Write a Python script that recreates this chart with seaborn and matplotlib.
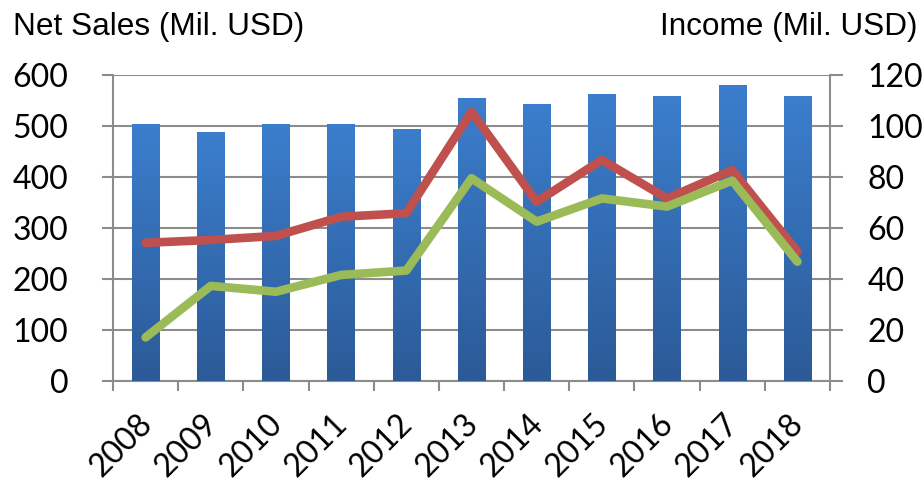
import numpy as np
import pandas as pd
import matplotlib
matplotlib.use("Agg")
import matplotlib.pyplot as plt
import matplotlib.transforms as mtransforms
import seaborn as sns
from matplotlib.colors import LinearSegmentedColormap

years = ["2008", "2009", "2010", "2011", "2012", "2013", "2014", "2015", "2016", "2017", "2018"]
net_sales = [504, 488, 504, 504, 494, 555, 543, 563, 559, 580, 559]
income_red = [54.2, 55.3, 56.9, 64.4, 65.8, 105.6, 70.3, 86.7, 71.6, 82.7, 50.7]
income_green = [17.1, 37.3, 35.0, 41.6, 43.3, 79.5, 62.5, 71.6, 68.4, 78.6, 46.8]
left_ticks = [0, 100, 200, 300, 400, 500, 600]
right_ticks = [0, 20, 40, 60, 80, 100, 120]

sns.set_theme(style="white")
plt.rcParams["font.family"] = ["Lato", "DejaVu Sans"]
plt.rcParams["text.color"] = "black"
plt.rcParams["xtick.color"] = "black"
plt.rcParams["ytick.color"] = "black"
plt.rcParams["xtick.labelcolor"] = "black"
plt.rcParams["ytick.labelcolor"] = "black"

GRID = "#8c8c8c"
W, H = 923, 483
fig = plt.figure(figsize=(W / 100, H / 100), dpi=100)
ax = fig.add_axes([113 / W, 1 - 381 / H, (830 - 113) / W, (381 - 75) / H])

df = pd.DataFrame({"year": years, "sales": net_sales})
sns.barplot(data=df, x="year", y="sales", ax=ax, color="#3a7bc8", width=0.42,
            saturation=1, zorder=2)

# gradient fill
cmap = LinearSegmentedColormap.from_list("g", ["#2c5a97", "#3b7ecd"])
grad = np.linspace(0, 1, 256).reshape(-1, 1)
for p in ax.patches:
    x0, y0 = p.get_x(), p.get_y()
    w, h = p.get_width(), p.get_height()
    p.set_edgecolor("none")
    im = ax.imshow(grad, cmap=cmap, aspect="auto", origin="lower",
                   extent=[x0, x0 + w, y0, y0 + h], zorder=3, interpolation="bilinear")
    im.set_clip_path(p)
ax.set_xlim(-0.5, len(years) - 0.5)
ax.set_ylim(0, 600)

ax.set_yticks(left_ticks)
ax.yaxis.grid(True, color=GRID, linewidth=1.5, zorder=0)
ax.set_axisbelow(True)
ax.set_xlabel("")
ax.set_ylabel("")
for s in ["top", "right"]:
    ax.spines[s].set_visible(False)
for s in ["left", "bottom"]:
    ax.spines[s].set_color(GRID)
    ax.spines[s].set_linewidth(1.5)

ax.tick_params(axis="y", which="major", length=8, width=1.5, color=GRID,
               direction="out", labelsize=23, pad=24, left=True, labelcolor="black")
ax.set_xticks(range(len(years)))
ax.set_xticklabels(years, rotation=45, ha="right", rotation_mode="anchor", fontsize=23)
ax.tick_params(axis="x", which="major", length=0, pad=12, labelcolor="black")
offset = mtransforms.ScaledTranslation(-9 / 100, -11 / 100, fig.dpi_scale_trans)
for lab in ax.get_xticklabels():
    lab.set_transform(lab.get_transform() + offset)
ax.set_xticks(np.arange(-0.5, len(years), 1.0), minor=True)
ax.tick_params(axis="x", which="minor", length=7, width=1.5, color=GRID, direction="out", bottom=True)

ax2 = ax.twinx()
ax2.set_position(ax.get_position())
x = np.arange(len(years))
lines = pd.DataFrame({"x": x, "red": income_red, "green": income_green})
sns.lineplot(data=lines, x="x", y="red", ax=ax2, color="#c0504d", linewidth=6.2,
             solid_capstyle="round", solid_joinstyle="round", zorder=4)
sns.lineplot(data=lines, x="x", y="green", ax=ax2, color="#9bbb59", linewidth=6.2,
             solid_capstyle="round", solid_joinstyle="round", zorder=5)
ax2.set_ylim(0, 120)
ax2.set_xlim(-0.5, len(years) - 0.5)
ax2.set_yticks(right_ticks)
ax2.set_xlabel("")
ax2.set_ylabel("")
ax2.grid(False)
for s in ["top", "left", "bottom"]:
    ax2.spines[s].set_visible(False)
ax2.spines["right"].set_color(GRID)
ax2.spines["right"].set_linewidth(1.5)
ax2.tick_params(axis="y", length=9, width=1.5, color=GRID, direction="out",
                labelsize=23, pad=18, right=True, labelcolor="black")

fig.text(13 / W, 1 - 35 / H, "Net Sales (Mil. USD)", fontsize=22.7, color="black",
         family=["Liberation Sans", "DejaVu Sans"], va="baseline", ha="left")
fig.text(917 / W, 1 - 35 / H, "Income (Mil. USD)", fontsize=22.7, color="black",
         family=["Liberation Sans", "DejaVu Sans"], va="baseline", ha="right")

fig.savefig("out.png", dpi=100)
